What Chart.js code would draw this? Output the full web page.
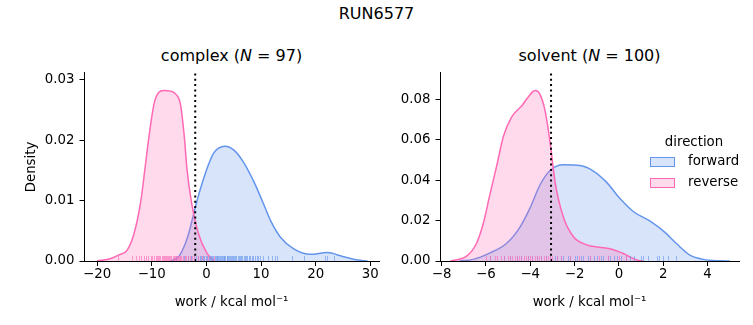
<!DOCTYPE html>
<html lang="en">
<head>
    <meta charset="UTF-8">
    <title>RUN6577</title>
    <script src="https://cdn.jsdelivr.net/npm/chart.js"></script>
    <style>
        body { margin: 0; background: #fff; font-family: 'DejaVu Sans', sans-serif; color: #000; }
        .fig { position: relative; width: 753px; height: 325px; overflow: hidden; }
        canvas { position: absolute; top: 60px; }
        .txt { position: absolute; white-space: nowrap; transform: translate(-50%, -50%); }
        .sup { font-size: 16px; }
        .lg { position: absolute; font-size: 13.33px; }
        .box { position: absolute; width: 25px; height: 10px; box-sizing: border-box; }
    </style>
</head>
<body>
<div class="fig">
    <div class="txt sup" style="left:376.5px; top:13px;">RUN6577</div>
    <div class="txt sup" style="left:231.5px; top:55px;">complex (<i>N</i> = 97)</div>
    <div class="txt sup" style="left:589.5px; top:55px;">solvent (<i>N</i> = 100)</div>
    <canvas id="complexChart" width="385" height="265" style="left:0px;"></canvas>
    <canvas id="solventChart" width="368" height="265" style="left:385px;"></canvas>

    <div class="txt lg" style="left:694px; top:141px;">direction</div>
    <div class="box" style="left:650px; top:157px; background:rgba(100,149,237,0.25); border:1px solid #6495ed;"></div>
    <div class="lg" style="left:688px; top:153px;">forward</div>
    <div class="box" style="left:650px; top:178px; background:rgba(255,105,180,0.25); border:1px solid #ff69b4;"></div>
    <div class="lg" style="left:688px; top:174px;">reverse</div>
</div>

<script>
    // KDE curves (work in kcal/mol, density)
    const complexFwdX = [-6.5, -5, -3.85, -3.25, -1.73, 0.09, 1.3, 2.3, 3.4, 5.1, 6.9, 8.75, 10.3, 11.8, 13.6, 16.0, 19.05, 22.1, 25.1, 27.5, 29.5];
    const complexFwdY = [0, 0.0008, 0.0029, 0.0045, 0.0099, 0.0152, 0.0178, 0.0187, 0.019, 0.0183, 0.0162, 0.013, 0.0098, 0.0066, 0.0039, 0.002, 0.0011, 0.0014, 0.0007, 0.0002, 0];
    const complexRevX = [-20, -17.5, -16, -14.5, -13.25, -12.0, -11.25, -10.5, -9.6, -8.7, -7.8, -6.6, -5.6, -4.76, -4.04, -3.55, -2.76, -1.44, 0.09, 1.4];
    const complexRevY = [0, 0.0004, 0.001, 0.0018, 0.0045, 0.0099, 0.0152, 0.0206, 0.0259, 0.0279, 0.0282, 0.0281, 0.0276, 0.026, 0.0206, 0.0152, 0.0099, 0.0045, 0.0013, 0];

    const solventFwdX = [-7.2, -6.57, -5.81, -5.06, -4.46, -4.0, -3.56, -3.1, -2.5, -1.75, -1.15, -0.55, 0.05, 0.65, 1.41, 2.0, 2.61, 3.21, 3.81, 4.57, 5.0];
    const solventFwdY = [0, 0.0008, 0.004, 0.0088, 0.0168, 0.0264, 0.0376, 0.0448, 0.0476, 0.0472, 0.0445, 0.0389, 0.0309, 0.0245, 0.0197, 0.0149, 0.0085, 0.0029, 0.0008, 0.0001, 0];
    const solventRevX = [-7.6, -6.87, -6.42, -6.12, -5.82, -5.51, -5.21, -4.84, -4.38, -4.0, -3.78, -3.56, -3.33, -3.1, -2.88, -2.5, -2.05, -1.45, -0.9, -0.4, 0.2, 0.8, 1.1];
    const solventRevY = [0, 0.0024, 0.0088, 0.0184, 0.0328, 0.0472, 0.0616, 0.0712, 0.0768, 0.0824, 0.0843, 0.0824, 0.0744, 0.0584, 0.0392, 0.0216, 0.012, 0.008, 0.0068, 0.0061, 0.0037, 0.0005, 0];

    // individual work values (rug), estimated
    const complexFwdRug = [-5.6, -4.1, -3.3, -2.8, -2.2, -1.9, -1.5, -1.2, -0.9, -0.6, -0.4, -0.1, 0.2, 0.4, 0.7, 0.9, 1.1, 1.3, 1.5, 1.7, 1.9, 2.0, 2.2, 2.4, 2.5, 2.7, 2.9, 3.0, 3.2, 3.3, 3.5, 3.7, 3.8, 4.0, 4.2, 4.3, 4.5, 4.7, 4.9, 5.1, 5.3, 5.5, 5.7, 5.9, 6.1, 6.3, 6.6, 6.8, 7.0, 7.3, 7.5, 7.8, 8.0, 8.3, 8.6, 8.9, 9.2, 9.5, 9.9, 10.3, 11.2, 12.1, 12.5, 13.0, 15.7, 17.8, 21.7, 22.1, 23.4];
    const complexRevRug = [-16.1, -13.7, -12.8, -12.3, -11.9, -11.4, -11.0, -10.6, -10.2, -9.9, -9.6, -9.3, -9.1, -8.8, -8.6, -8.4, -8.2, -8.0, -7.8, -7.6, -7.4, -7.2, -7.0, -6.8, -6.6, -6.4, -6.2, -6.0, -5.8, -5.6, -5.4, -5.2, -5.0, -4.8, -4.6, -4.3, -4.0, -3.7, -3.4, -3.0, -2.6, -2.2, -1.6, -0.8, 0.3, 1.4];
    const solventFwdRug = [-5.8, -5.2, -4.9, -4.6, -4.4, -4.1, -3.9, -3.7, -3.5, -3.3, -3.1, -2.9, -2.8, -2.6, -2.5, -2.3, -2.2, -2.0, -1.9, -1.7, -1.6, -1.4, -1.3, -1.1, -1.0, -0.8, -0.7, -0.5, -0.4, -0.2, -0.1, 0.1, 0.3, 0.5, 0.7, 1.0, 1.1, 1.3, 1.7, 1.8, 2.0, 2.2, 2.6];
    const solventRevRug = [-6.0, -5.8, -5.6, -5.5, -5.3, -5.2, -5.0, -4.9, -4.8, -4.7, -4.6, -4.5, -4.4, -4.3, -4.2, -4.1, -4.0, -3.9, -3.8, -3.7, -3.6, -3.5, -3.4, -3.3, -3.2, -3.1, -3.0, -2.8, -2.6, -2.2, -1.8, -1.3, -0.9, -0.5, 0.0, 0.3];

    // dotted reference lines
    const complexLine = -2.04;
    const solventLine = -3.06;

    // ticks
    const complexXTicks = [-20, -10, 0, 10, 20, 30];
    const complexYTicks = [0, 0.01, 0.02, 0.03];
    const solventXTicks = [-8, -6, -4, -2, 0, 2, 4];
    const solventYTicks = [0, 0.02, 0.04, 0.06, 0.08];

    const BLUE = '#6495ed';
    const PINK = '#ff69b4';

    Chart.defaults.font.family = "'DejaVu Sans', sans-serif";
    Chart.defaults.font.size = 13.33;
    Chart.defaults.color = '#000';

    const toPoints = (xs, ys) => xs.map((x, i) => ({ x: x, y: ys[i] }));

    // small rug ticks along the bottom axis
    const rugPlugin = {
        id: 'rug',
        afterDatasetsDraw(chart, args, opts) {
            const ctx = chart.ctx;
            const xs = chart.scales.x;
            const bottom = chart.chartArea.bottom;
            ctx.save();
            ctx.lineWidth = 1;
            (opts.sets || []).forEach(set => {
                ctx.strokeStyle = set.color;
                set.values.forEach(v => {
                    const px = Math.round(xs.getPixelForValue(v)) + 0.5;
                    ctx.beginPath();
                    ctx.moveTo(px, bottom);
                    ctx.lineTo(px, bottom - 5);
                    ctx.stroke();
                });
            });
            ctx.restore();
        }
    };

    function makeChart(id, cfg) {
        const kde = (xs, ys, color, fillColor) => ({
            data: toPoints(xs, ys),
            borderColor: color,
            backgroundColor: fillColor,
            borderWidth: 1.5,
            pointRadius: 0,
            fill: 'origin',
            cubicInterpolationMode: 'monotone'
        });
        return new Chart(document.getElementById(id), {
            type: 'line',
            data: {
                datasets: [
                    {
                        data: [{ x: cfg.line, y: 0 }, { x: cfg.line, y: cfg.yMax }],
                        borderColor: '#000',
                        borderWidth: 2,
                        borderDash: [2, 3.3],
                        pointRadius: 0,
                        fill: false
                    },
                    kde(cfg.revX, cfg.revY, PINK, 'rgba(255,105,180,0.25)'),
                    kde(cfg.fwdX, cfg.fwdY, BLUE, 'rgba(100,149,237,0.25)')
                ]
            },
            options: {
                responsive: false,
                animation: false,
                layout: { padding: { left: 0, right: cfg.padRight, top: 7, bottom: 0 } },
                plugins: {
                    legend: { display: false },
                    tooltip: { enabled: false },
                    rug: {
                        sets: [
                            { values: cfg.fwdRug, color: 'rgba(100,149,237,0.6)' },
                            { values: cfg.revRug, color: 'rgba(255,105,180,0.6)' }
                        ]
                    }
                },
                scales: {
                    x: {
                        type: 'linear',
                        min: cfg.xMin,
                        max: cfg.xMax,
                        afterBuildTicks: s => { s.ticks = cfg.xTicks.map(v => ({ value: v })); },
                        afterFit: s => { s.height = 64; },
                        grid: { display: true, drawOnChartArea: false, drawTicks: true, tickLength: 5, tickColor: '#000', tickWidth: 1 },
                        border: { display: true, color: '#000', width: 1 },
                        ticks: { padding: 1, maxRotation: 0, callback: v => String(v).replace('-', '\u2212') },
                        title: { display: true, text: 'work / kcal mol\u207B\u00B9', padding: { top: 0, bottom: 14 } }
                    },
                    y: {
                        min: 0,
                        max: cfg.yMax,
                        afterBuildTicks: s => { s.ticks = cfg.yTicks.map(v => ({ value: v })); },
                        afterFit: s => { s.width = cfg.yWidth; },
                        grid: { display: true, drawOnChartArea: false, drawTicks: true, tickLength: 4.5, tickColor: '#000', tickWidth: 1 },
                        border: { display: true, color: '#000', width: 1 },
                        ticks: { padding: 5, callback: v => v.toFixed(2) },
                        title: { display: cfg.yTitle, text: 'Density', padding: { top: 24, bottom: 0 } }
                    }
                }
            },
            plugins: [rugPlugin]
        });
    }

    makeChart('complexChart', {
        fwdX: complexFwdX, fwdY: complexFwdY, revX: complexRevX, revY: complexRevY,
        fwdRug: complexFwdRug, revRug: complexRevRug, line: complexLine,
        xMin: -22.4, xMax: 31.6, yMax: 0.0311,
        xTicks: complexXTicks, yTicks: complexYTicks,
        yWidth: 84, padRight: 6, yTitle: true
    });

    makeChart('solventChart', {
        fwdX: solventFwdX, fwdY: solventFwdY, revX: solventRevX, revY: solventRevY,
        fwdRug: solventFwdRug, revRug: solventRevRug, line: solventLine,
        xMin: -8.07, xMax: 5.42, yMax: 0.093,
        xTicks: solventXTicks, yTicks: solventYTicks,
        yWidth: 55, padRight: 14, yTitle: false
    });
</script>
</body>
</html>
